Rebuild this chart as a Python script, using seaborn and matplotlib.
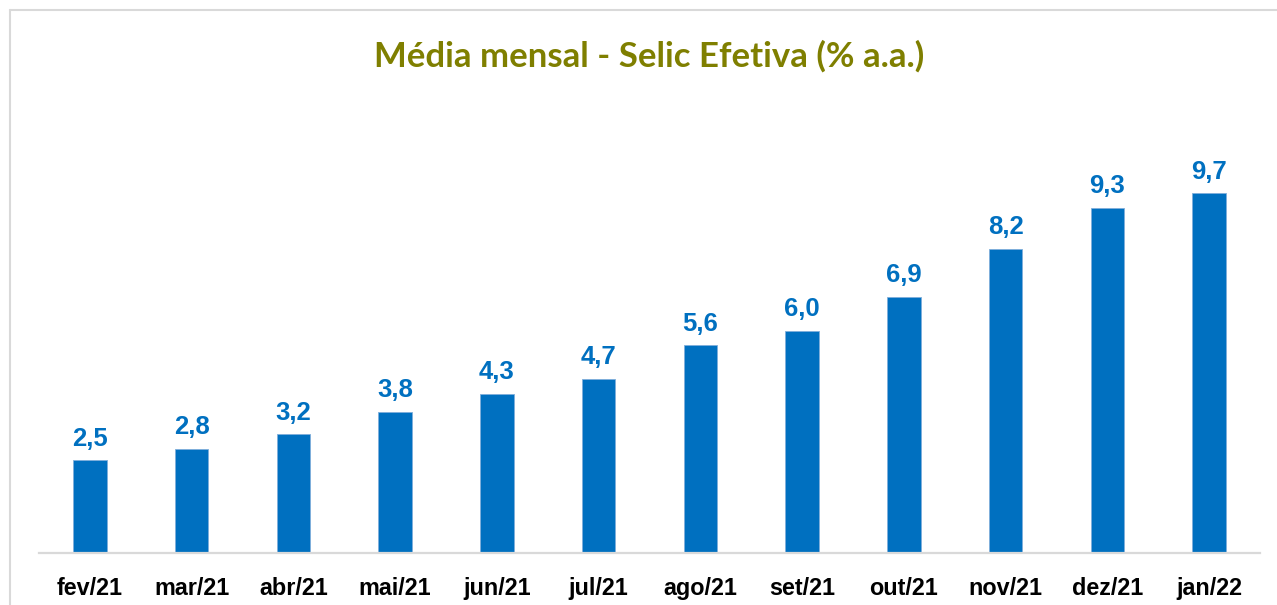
import matplotlib
matplotlib.use("Agg")
import matplotlib.pyplot as plt
import pandas as pd
import seaborn as sns
from matplotlib.lines import Line2D

MONTHS = ["fev/21", "mar/21", "abr/21", "mai/21", "jun/21", "jul/21",
          "ago/21", "set/21", "out/21", "nov/21", "dez/21", "jan/22"]
SELIC = [2.5, 2.8, 3.2, 3.8, 4.3, 4.7, 5.6, 6.0, 6.9, 8.2, 9.3, 9.7]
TITLE = "Média mensal - Selic Efetiva (% a.a.)"

BAR_COLOR = "#0070C0"
TITLE_COLOR = "#7F7F00"
GRID_GRAY = "#D9D9D9"

W, H = 1277, 605


def main():
    sns.set_style("white")
    plt.rcParams["font.family"] = ["Liberation Sans", "DejaVu Sans"]

    df = pd.DataFrame({"month": MONTHS, "selic": SELIC})

    fig = plt.figure(figsize=(W / 100, H / 100), dpi=100)
    ax = fig.add_axes([39 / W, 52 / H, (1260 - 39) / W, 445 / H])

    sns.barplot(data=df, x="month", y="selic", color=BAR_COLOR, width=0.33,
                saturation=1, edgecolor="#7FAEDB", linewidth=0.6, ax=ax)

    ax.set_ylim(0, 12)
    ax.set_xlim(-0.5, len(MONTHS) - 0.5)
    ax.set_xlabel("")
    ax.set_ylabel("")
    ax.set_yticks([])
    for side in ["top", "right", "left"]:
        ax.spines[side].set_visible(False)
    ax.spines["bottom"].set_color(GRID_GRAY)
    ax.spines["bottom"].set_linewidth(1.6)
    ax.tick_params(axis="x", length=0, pad=17, labelsize=16.8)
    for lbl in ax.get_xticklabels():
        lbl.set_fontweight("bold")
        lbl.set_color("black")

    for i, v in enumerate(SELIC):
        ax.annotate(f"{v:.1f}".replace(".", ","), (i, v), xytext=(0, 7),
                    textcoords="offset points", ha="center", va="bottom",
                    fontsize=18.5, fontweight="bold", color=BAR_COLOR)

    fig.text(649 / W, 1 - 56 / H, TITLE, ha="center", va="center",
             fontsize=25, fontweight="bold", color=TITLE_COLOR,
             family=["Lato", "DejaVu Sans"])

    # outer frame (only top and left edges are visible in the crop)
    fig.add_artist(Line2D([10 / W, 1.0], [1 - 10 / H, 1 - 10 / H],
                          transform=fig.transFigure, color=GRID_GRAY, lw=1.5))
    fig.add_artist(Line2D([10 / W, 10 / W], [0, 1 - 10 / H],
                          transform=fig.transFigure, color=GRID_GRAY, lw=1.5))

    fig.savefig("out.png", dpi=100)
    plt.close(fig)


if __name__ == "__main__":
    main()
